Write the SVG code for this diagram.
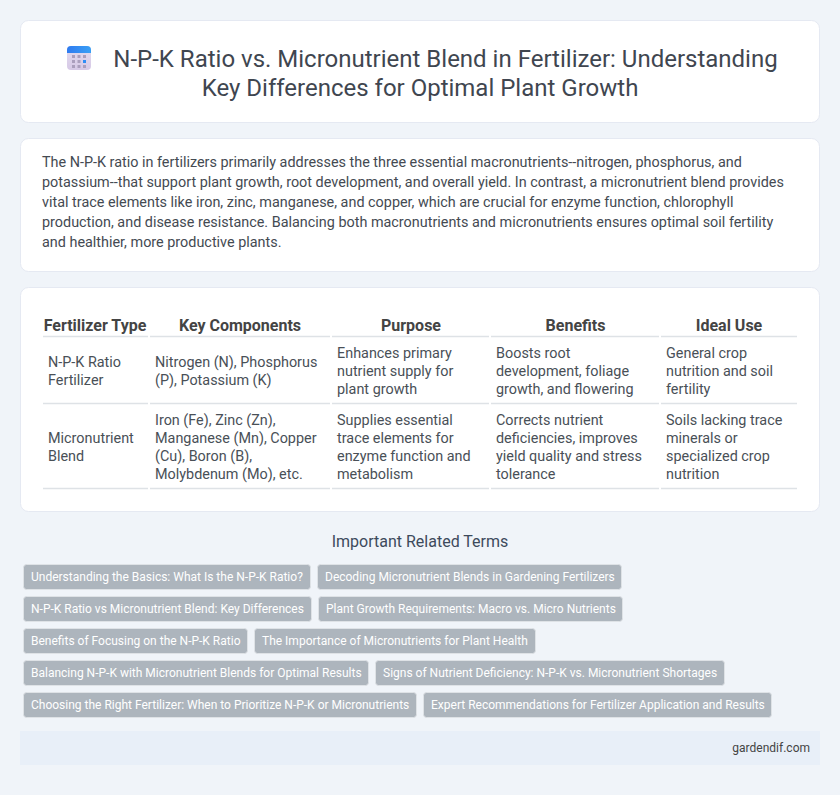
<svg xmlns="http://www.w3.org/2000/svg" width="840" height="795" viewBox="0 0 840 795">
<defs>
<linearGradient id="ic" x1="0" y1="0" x2="0" y2="1"><stop offset="0" stop-color="#e4dcef"/><stop offset="1" stop-color="#d6c9e6"/></linearGradient>
<linearGradient id="ich" x1="0" y1="0" x2="1" y2="0"><stop offset="0" stop-color="#2f7bf0"/><stop offset="1" stop-color="#3aa0f5"/></linearGradient>
</defs>
<style>
text{font-family:Roboto,"Liberation Sans",sans-serif}
.card{fill:#fff;stroke:#e5e9f2;stroke-width:1}
.t{font-size:24px;fill:#3f4650;text-anchor:middle}
.p{font-size:14.4px;fill:#444a52}
.h{font-size:16px;font-weight:700;fill:#444;text-anchor:middle}
.c{font-size:14.4px;fill:#495057}
.r{stroke:#dee2e6;stroke-width:1.500;fill:none}
.tag rect{fill:#adb5bd;stroke:#dee2e6;stroke-width:1}
.tag text{font-size:12px;fill:#fff}
.d{fill:#ab9fbd}
</style>
<rect width="840" height="795" fill="#f0f4f9"/>
<g id="header">
<rect class="card" x="20.500" y="20.500" width="799" height="102" rx="8"/>
<g id="icon">
<rect x="67" y="46" width="24" height="24" rx="4" fill="url(#ic)"/>
<path d="M67 53V50a4 4 0 0 1 4-4h16a4 4 0 0 1 4 4v3z" fill="url(#ich)"/>
<g class="d"><rect x="72" y="55" width="3" height="3"/><rect x="77.500" y="55" width="3" height="3"/><rect x="83" y="55" width="3" height="3"/><rect x="72" y="60" width="3" height="3"/><rect x="77.500" y="60" width="3" height="3"/><rect x="83" y="60" width="3" height="3" fill="#2f8df5"/><rect x="72" y="65" width="3" height="3"/><rect x="77.500" y="65" width="3" height="3"/><rect x="83" y="65" width="3" height="3"/></g>
</g>
<text class="t" x="445.500" y="67">N-P-K Ratio vs. Micronutrient Blend in Fertilizer: Understanding</text>
<text class="t" x="420" y="96">Key Differences for Optimal Plant Growth</text>
</g>
<g id="intro">
<rect class="card" x="20.500" y="138.500" width="799" height="133" rx="8"/>
<text class="p" x="42" y="167">The N-P-K ratio in fertilizers primarily addresses the three essential macronutrients--nitrogen, phosphorus, and</text>
<text class="p" x="42" y="187">potassium--that support plant growth, root development, and overall yield. In contrast, a micronutrient blend provides</text>
<text class="p" x="42" y="207">vital trace elements like iron, zinc, manganese, and copper, which are crucial for enzyme function, chlorophyll</text>
<text class="p" x="42" y="227">production, and disease resistance. Balancing both macronutrients and micronutrients ensures optimal soil fertility</text>
<text class="p" x="42" y="247">and healthier, more productive plants.</text>
</g>
<g id="table">
<rect class="card" x="20.500" y="287.500" width="799" height="224" rx="8"/>
<text class="h" x="95" y="331">Fertilizer Type</text>
<text class="h" x="240" y="331">Key Components</text>
<text class="h" x="411" y="331">Purpose</text>
<text class="h" x="575.500" y="331">Benefits</text>
<text class="h" x="729" y="331">Ideal Use</text>
<path class="r" d="M43 336.500H148M150 336.500H330M332 336.500H489M491 336.500H659M661 336.500H797M43 403.500H148M150 403.500H330M332 403.500H489M491 403.500H659M661 403.500H797M43 488.500H148M150 488.500H330M332 488.500H489M491 488.500H659M661 488.500H797"/>
<text class="c" x="48" y="367">N-P-K Ratio</text><text class="c" x="48" y="385">Fertilizer</text>
<text class="c" x="155" y="367">Nitrogen (N), Phosphorus</text><text class="c" x="155" y="385">(P), Potassium (K)</text>
<text class="c" x="337" y="358">Enhances primary</text><text class="c" x="337" y="376">nutrient supply for</text><text class="c" x="337" y="394">plant growth</text>
<text class="c" x="496" y="358">Boosts root</text><text class="c" x="496" y="376">development, foliage</text><text class="c" x="496" y="394">growth, and flowering</text>
<text class="c" x="666" y="358">General crop</text><text class="c" x="666" y="376">nutrition and soil</text><text class="c" x="666" y="394">fertility</text>
<text class="c" x="48" y="443">Micronutrient</text><text class="c" x="48" y="461">Blend</text>
<text class="c" x="155" y="425">Iron (Fe), Zinc (Zn),</text><text class="c" x="155" y="443">Manganese (Mn), Copper</text><text class="c" x="155" y="461">(Cu), Boron (B),</text><text class="c" x="155" y="479">Molybdenum (Mo), etc.</text>
<text class="c" x="337" y="425">Supplies essential</text><text class="c" x="337" y="443">trace elements for</text><text class="c" x="337" y="461">enzyme function and</text><text class="c" x="337" y="479">metabolism</text>
<text class="c" x="496" y="425">Corrects nutrient</text><text class="c" x="496" y="443">deficiencies, improves</text><text class="c" x="496" y="461">yield quality and stress</text><text class="c" x="496" y="479">tolerance</text>
<text class="c" x="666" y="425">Soils lacking trace</text><text class="c" x="666" y="443">minerals or</text><text class="c" x="666" y="461">specialized crop</text><text class="c" x="666" y="479">nutrition</text>
</g>
<g id="related">
<text x="420" y="547" font-size="16" fill="#3d4a5c" text-anchor="middle">Important Related Terms</text>
<g class="tag" id="tag1"><rect x="23.500" y="564.500" width="287" height="25" rx="3"/><text x="31" y="581">Understanding the Basics: What Is the N-P-K Ratio?</text></g>
<g class="tag" id="tag2"><rect x="317.500" y="564.500" width="304" height="25" rx="3"/><text x="325" y="581">Decoding Micronutrient Blends in Gardening Fertilizers</text></g>
<g class="tag" id="tag3"><rect x="23.500" y="596.500" width="288" height="25" rx="3"/><text x="31" y="613">N-P-K Ratio vs Micronutrient Blend: Key Differences</text></g>
<g class="tag" id="tag4"><rect x="318.500" y="596.500" width="304" height="25" rx="3"/><text x="326" y="613">Plant Growth Requirements: Macro vs. Micro Nutrients</text></g>
<g class="tag" id="tag5"><rect x="23.500" y="628.500" width="224" height="25" rx="3"/><text x="31" y="645">Benefits of Focusing on the N-P-K Ratio</text></g>
<g class="tag" id="tag6"><rect x="254.500" y="628.500" width="281" height="25" rx="3"/><text x="262" y="645">The Importance of Micronutrients for Plant Health</text></g>
<g class="tag" id="tag7"><rect x="23.500" y="660.500" width="345" height="25" rx="3"/><text x="31" y="677">Balancing N-P-K with Micronutrient Blends for Optimal Results</text></g>
<g class="tag" id="tag8"><rect x="375.500" y="660.500" width="349" height="25" rx="3"/><text x="383" y="677">Signs of Nutrient Deficiency: N-P-K vs. Micronutrient Shortages</text></g>
<g class="tag" id="tag9"><rect x="23.500" y="692.500" width="393" height="25" rx="3"/><text x="31" y="709">Choosing the Right Fertilizer: When to Prioritize N-P-K or Micronutrients</text></g>
<g class="tag" id="tag10"><rect x="423.500" y="692.500" width="348" height="25" rx="3"/><text x="431" y="709">Expert Recommendations for Fertilizer Application and Results</text></g>
</g>
<g id="footer">
<rect x="20" y="731" width="800" height="34" fill="#e8eff8"/>
<text x="810" y="752" font-size="12" fill="#444" text-anchor="end">gardendif.com</text>
</g>
</svg>
